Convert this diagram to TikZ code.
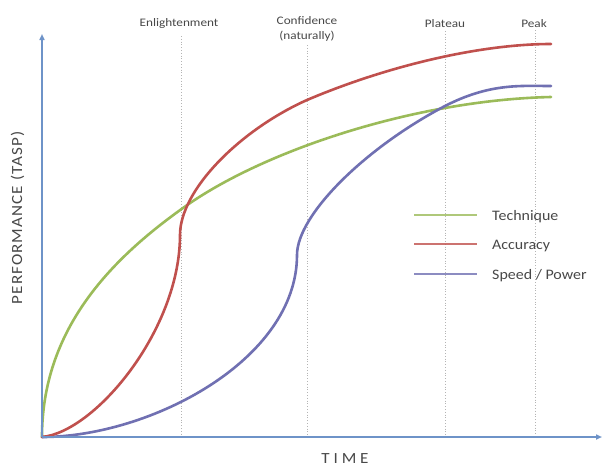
\documentclass[tikz,border=0pt]{standalone}
\usepackage{fontspec}
\setmainfont{Carlito}
\newfontfamily\labfont[FakeStretch=1.15]{Carlito}
\newfontfamily\legfont[FakeStretch=1.1]{Carlito}
\newfontfamily\axfont[FakeStretch=1.1,LetterSpace=7]{Carlito}
\newfontfamily\timefont[FakeStretch=1.1,LetterSpace=25]{Carlito}
\usetikzlibrary{arrows.meta}
\definecolor{axisblue}{HTML}{6E93C8}
\definecolor{techgreen}{HTML}{9BBB59}
\definecolor{accred}{HTML}{C0504D}
\definecolor{speedblue}{HTML}{7070B2}
\definecolor{guide}{HTML}{B4B4B4}
\definecolor{txt}{HTML}{484848}
\tikzset{
  axisline/.style={draw=axisblue, line width=1.8pt, -{Triangle[length=6pt,width=5pt]}},
  guideline/.style={draw=guide, line width=0.8pt, dotted},
  curve/.style={line width=2.6pt, line cap=round},
  legline/.style={line width=2.2pt, opacity=0.8},
  toplabel/.style={font=\labfont\fontsize{11.5}{12}\selectfont, text=txt, anchor=base, inner sep=0pt},
  legtext/.style={font=\legfont\fontsize{14.5}{15}\selectfont, text=txt, anchor=base west, inner sep=0pt},
}
\begin{document}
\begin{tikzpicture}[x=1pt,y=-1pt]
\useasboundingbox[fill=white] (0,0) rectangle (602,466);
% named coordinates
\coordinate (O) at (42,437);
\coordinate (Ytop) at (42,34);
\coordinate (Xend) at (602,437);
\coordinate (g1t) at (181,36); \coordinate (g1b) at (181,437);
\coordinate (g2t) at (307,45); \coordinate (g2b) at (307,437);
\coordinate (g3t) at (445,31); \coordinate (g3b) at (445,437);
\coordinate (g4t) at (535,30); \coordinate (g4b) at (535,437);
% guides
\draw[guideline] (g1t) -- (g1b);
\draw[guideline] (g2t) -- (g2b);
\draw[guideline] (g3t) -- (g3b);
\draw[guideline] (g4t) -- (g4b);
% top labels
\node[toplabel] (lEn) at (179,26) {Enlightenment};
\node[toplabel] (lCo) at (307,24) {Confidence};
\node[toplabel] (lNa) at (307,39) {(naturally)};
\node[toplabel] (lPl) at (445,27) {Plateau};
\node[toplabel] (lPe) at (534,27) {Peak};
% curve points
\coordinate (gA) at (183,208); \coordinate (gE) at (551,97);
\coordinate (rA) at (180,235); \coordinate (rB) at (307,100); \coordinate (rE) at (551,44);
\coordinate (bA) at (297,255); \coordinate (bB) at (445,106); \coordinate (bE) at (551,86);
% curves
\draw[curve, techgreen] (O) .. controls (42,330) and (110,260) .. (gA)
  .. controls (262,151) and (415,100) .. (gE);
\draw[curve, speedblue] (O) .. controls (150,437) and (297,360) .. (bA)
  .. controls (297,215) and (365,148) .. (bB)
  .. controls (490,83) and (520,86) .. (bE);
\draw[curve, accred] (O) .. controls (95,432) and (180,330) .. (rA)
  .. controls (180,190) and (240,130) .. (rB)
  .. controls (387,66) and (480,44) .. (rE);
% axes
\draw[axisline] (O) -- (Ytop);
\draw[axisline] (O) -- (Xend);
% axis titles
\node[font=\axfont\fontsize{15.5}{16}\selectfont, text=txt, rotate=90, inner sep=0pt] (ylab) at (17.5,218) {PERFORMANCE (TASP)};
\node[font=\timefont\fontsize{15.5}{16}\selectfont, text=txt, inner sep=0pt, anchor=base] (xlab) at (345,463) {TIME};
% legend
\coordinate (t1) at (414,215); \coordinate (t2) at (477,215);
\coordinate (a1) at (414,244); \coordinate (a2) at (477,244);
\coordinate (s1) at (414,274); \coordinate (s2) at (477,274);
\draw[legline, techgreen] (t1) -- (t2);
\draw[legline, accred] (a1) -- (a2);
\draw[legline, speedblue] (s1) -- (s2);
\node[legtext] (leg1) at (492,220) {Technique};
\node[legtext] (leg2) at (492,249) {Accuracy};
\node[legtext] (leg3) at (492,279) {Speed / Power};
\end{tikzpicture}
\end{document}
